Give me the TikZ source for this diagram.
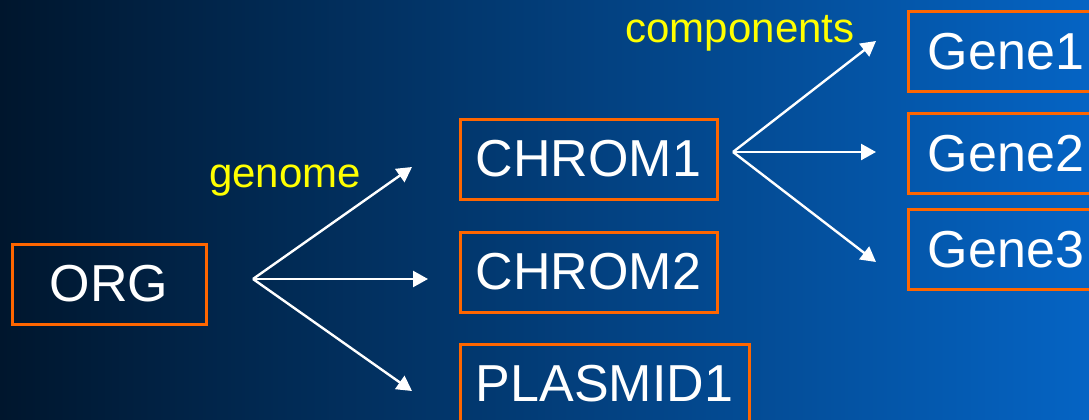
\documentclass[tikz,border=0pt]{standalone}
\usepackage{fontspec}
\setmainfont{Liberation Sans}
\usetikzlibrary{arrows.meta}

\definecolor{bgleft}{RGB}{0,22,45}
\definecolor{bgmid}{RGB}{3,75,152}
\definecolor{bgright}{RGB}{5,100,196}
\definecolor{boxorange}{RGB}{255,102,0}
\definecolor{tagyellow}{RGB}{255,255,0}

\begin{document}
\begin{tikzpicture}[x=1pt, y=-1pt,
    box/.style={draw=boxorange, line width=3pt, minimum height=80pt, inner sep=0pt,
        text=white, font=\fontsize{52}{60}\selectfont},
    tag/.style={text=tagyellow, anchor=base, inner sep=0pt, font=\fontsize{42}{50}\selectfont},
    link/.style={draw=white, line width=2.4pt, -{Triangle[length=15pt,width=16pt]}}]

    \useasboundingbox (0,0) rectangle (1089,420);
    \clip (0,0) rectangle (1089,420);

    % background
    \shade [left color=bgleft, middle color=bgmid, right color=bgright]
        (0,0) rectangle (1089,420);

    % draw nodes
    \foreach \n/\x/\y/\w/\t in {org/109/284/194/ORG,
            chromA/588.5/159/257/CHROM1, chromB/588.5/272/257/CHROM2,
            plasmid/604.5/384/289/PLASMID1,
            geneA/1006/51.5/196/Gene1, geneB/1006/153.5/196/Gene2,
            geneC/1006/249.5/196/Gene3}
        \node [box, minimum width=\w pt]
            (v\n) at (\x, \y) {\t};

    % fan points and arrow ends
    \coordinate (pg) at (253, 279);
    \coordinate (pc) at (733, 152);
    \foreach \n/\x/\y in {g1/412/167, g2/428/279, g3/412/391,
            c1/876/41, c2/876/152, c3/876/262}
        \coordinate (t\n) at (\x, \y);

    % draw edges
    \foreach \j in {g1, g2, g3}
        \draw [link] (pg) -- (t\j);
    \foreach \j in {c1, c2, c3}
        \draw [link] (pc) -- (t\j);

    % labels
    \node [tag] (lgenome) at (285, 187) {genome};
    \node [tag] (lcomp) at (740, 43) {components};

\end{tikzpicture}
\end{document}
